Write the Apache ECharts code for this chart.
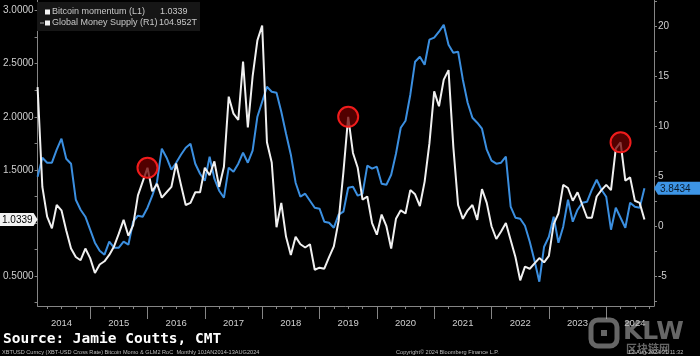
<!DOCTYPE html>
<html><head><meta charset="utf-8">
<script src="https://cdn.jsdelivr.net/npm/echarts@6/dist/echarts.min.js"></script>
<style>html,body{margin:0;padding:0;background:#000;}#c{width:700px;height:356px;}</style>
</head><body><div id="c"></div>
<script>
// ---- data (monthly, Jan 2014 .. Aug 2024) ----
const firstYear = 2014, axisMonths = 130; // axis runs Jan 2014 .. Oct 2024
const bitcoinMomentum = [
 2.28,1.34,1.06,0.95,1.17,1.12,0.93,0.76,0.68,0.65,0.76,0.67,
 0.53,0.61,0.64,0.70,0.78,0.90,1.03,0.88,0.98,1.26,1.39,1.52,
 1.30,1.37,1.24,1.29,1.34,1.56,1.36,1.17,1.19,1.29,1.29,1.52,
 1.45,1.58,1.34,1.53,2.19,2.03,1.97,2.52,1.90,2.38,2.72,2.86,
 1.76,1.57,0.96,1.19,0.87,0.70,0.87,0.80,0.77,0.80,0.56,0.58,
 0.57,0.68,0.78,1.02,1.48,2.00,1.66,1.52,1.22,1.25,1.00,0.89,
 1.08,0.97,0.76,1.04,1.12,1.09,1.31,1.27,1.16,1.39,1.75,2.24,
 2.10,2.35,2.44,1.72,1.17,1.04,1.12,1.17,1.03,1.32,1.19,0.97,
 0.85,0.92,1.00,0.84,0.68,0.46,0.59,0.57,0.62,0.67,0.63,0.69,
 0.99,1.09,1.36,1.33,1.21,1.29,1.17,1.05,1.05,1.25,1.31,1.36,
 1.31,1.70,1.76,1.40,1.43,1.21,1.19,1.0339
];
const globalMoneySupplyRoC = [
 5.0,6.9,6.4,6.4,7.7,8.8,6.8,6.3,2.7,1.7,1.0,-0.3,
 -1.6,-2.4,-2.8,-1.5,-2.1,-2.1,-1.5,-1.8,0.5,1.1,1.0,1.9,
 3.1,4.5,7.8,6.9,5.7,6.4,7.2,7.9,8.3,6.3,5.3,4.6,
 7.0,4.8,3.6,2.9,5.9,5.5,6.3,7.4,6.4,7.6,11.0,12.5,
 14.0,13.5,13.4,11.5,9.3,7.2,4.4,3.0,3.3,2.6,1.9,1.8,
 0.5,0.4,-0.1,1.2,1.5,3.9,4.0,3.1,3.3,6.1,5.8,6.0,
 4.3,4.2,5.2,7.3,9.9,10.6,13.2,16.5,17.0,16.2,18.7,18.9,
 19.5,20.2,18.2,17.4,17.5,14.7,12.4,10.9,10.4,9.8,7.7,6.6,
 6.3,6.4,7.0,2.0,0.9,0.8,0.1,-1.5,-3.4,-5.5,-2.0,-1.0,
 1.0,-1.6,0.0,2.7,0.5,1.7,2.4,2.5,3.7,4.7,3.7,3.0,
 -0.3,1.9,0.9,-0.1,2.4,2.0,1.9,3.8434
];
const peakMonths = ['2015-12', '2019-06', '2024-03'];
const leftLabelValues = [0.5, 1.5, 2.0, 2.5, 3.0];
const leftTickValues = [0.25,0.5,0.75,1.0,1.25,1.5,1.75,2.0,2.25,2.5,2.75,3.0];
const rightLabelValues = [-5, 0, 5, 10, 15, 20];
const rightTickValues = [-7.5,-5,-2.5,0,2.5,5,7.5,10,12.5,15,17.5,20,22.5];
const seriesNames = ['Bitcoin momentum (L1)', 'Global Money Supply (R1)'];
const legendValues = ['1.0339', '104.952T'];
const sourceText = 'Source: Jamie Coutts, CMT';
const footerLeft = 'XBTUSD Curncy (XBT-USD Cross Rate) Bitcoin Momo & GLM2 RoC  Monthly 10JAN2014-13AUG2024';
const footerMid = 'Copyright\u00a9 2024 Bloomberg Finance L.P.';
const footerRight = '13-Aug-2024 21:11:32';

const months = [];
for (let i = 0; i < axisMonths; i++) {
  const y = firstYear + Math.floor(i / 12), m = i % 12 + 1;
  months.push(y + '-' + (m < 10 ? '0' + m : m));
}
const monthOf = i => parseInt(months[i].slice(5), 10);
const lastIdx = bitcoinMomentum.length - 1;

const WHITE = '#f0f0f0', BLUE = '#3b8fe0', AXIS = '#858585', LABEL = '#cfcfcf';
const FONT = 'Liberation Sans';

const chart = echarts.init(document.getElementById('c'), null, {renderer: 'canvas'});
const option = {
  backgroundColor: '#000',
  animation: false,
  grid: {left: 35, right: 46, top: 0, bottom: 50, containLabel: false},
  xAxis: [{
    type: 'category', data: months, boundaryGap: false, position: 'bottom',
    axisLine: {onZero: false, lineStyle: {color: AXIS, width: 1}},
    axisTick: {interval: i => [3, 6, 9, 12].includes(monthOf(i)), length: 3, lineStyle: {color: AXIS}},
    axisLabel: {show: false}, splitLine: {show: false}
  }, {
    type: 'category', data: months, boundaryGap: false, position: 'bottom',
    axisLine: {show: false, onZero: false},
    axisTick: {interval: i => monthOf(i) === 12, length: 13, lineStyle: {color: AXIS}},
    axisLabel: {
      interval: i => monthOf(i) === 6,
      formatter: v => v.slice(0, 4), color: LABEL, fontSize: 9.5, fontFamily: FONT, margin: 12
    },
    splitLine: {show: false}
  }],
  yAxis: [{
    type: 'value', position: 'left', min: 0.219, max: 3.1,
    axisLine: {show: true, lineStyle: {color: AXIS}},
    axisTick: {show: true, customValues: leftTickValues, length: 3, lineStyle: {color: AXIS}},
    axisLabel: {customValues: leftLabelValues, formatter: v => v.toFixed(4), color: LABEL, fontSize: 10, fontFamily: FONT, margin: 4},
    splitLine: {show: false}
  }, {
    type: 'value', position: 'right', min: -7.93, max: 22.67,
    axisLine: {show: true, lineStyle: {color: AXIS}},
    axisTick: {show: true, customValues: rightTickValues, length: 3, lineStyle: {color: AXIS}},
    axisLabel: {customValues: rightLabelValues, color: LABEL, fontSize: 10, fontFamily: FONT, margin: 4},
    splitLine: {show: false}
  }],
  series: [{
    name: seriesNames[1], type: 'line', xAxisIndex: 0, yAxisIndex: 1,
    data: globalMoneySupplyRoC, showSymbol: false, symbol: 'none',
    lineStyle: {color: BLUE, width: 2}, itemStyle: {color: BLUE}, z: 2
  }, {
    name: seriesNames[0], type: 'line', xAxisIndex: 0, yAxisIndex: 0,
    data: bitcoinMomentum, showSymbol: false, symbol: 'none',
    lineStyle: {color: WHITE, width: 2}, itemStyle: {color: WHITE}, z: 3
  }, {
    name: 'peaks', type: 'scatter', xAxisIndex: 0, yAxisIndex: 0,
    data: peakMonths.map(m => [m, bitcoinMomentum[months.indexOf(m)]]),
    symbol: 'circle', symbolSize: 20,
    itemStyle: {color: 'rgba(110,0,0,0.75)', borderColor: '#f01c1c', borderWidth: 2, opacity: 1},
    z: 4, silent: true
  }]
};
chart.setOption(option);

// ---- overlays positioned through the chart's own scales ----
const xL = chart.convertToPixel({xAxisIndex: 0}, months[0]);
const xR = chart.convertToPixel({xAxisIndex: 0}, months[axisMonths - 1]);
const yL = chart.convertToPixel({yAxisIndex: 0}, bitcoinMomentum[lastIdx]);
const yR = chart.convertToPixel({yAxisIndex: 1}, globalMoneySupplyRoC[lastIdx]);
const h = 6.5;
const wm = 'rgba(185,185,185,0.55)';
const LF = '9px ' + FONT;
chart.setOption({
  graphic: [
    // legend box
    {type: 'rect', shape: {x: 37, y: 2, width: 163, height: 29}, style: {fill: '#161616'}, z: 10},
    {type: 'rect', shape: {x: 45, y: 9.5, width: 5, height: 5}, style: {fill: '#f4f4f4'}, z: 11},
    {type: 'text', x: 52, y: 12, style: {text: seriesNames[0], fill: '#c8c8c8', font: LF, verticalAlign: 'middle'}, z: 11},
    {type: 'text', x: 160, y: 12, style: {text: legendValues[0], fill: '#c8c8c8', font: LF, verticalAlign: 'middle'}, z: 11},
    {type: 'line', shape: {x1: 40, y1: 23, x2: 44, y2: 23}, style: {stroke: '#aaaaaa', lineWidth: 1}, z: 11},
    {type: 'rect', shape: {x: 45, y: 20.5, width: 5, height: 5}, style: {fill: '#f4f4f4'}, z: 11},
    {type: 'text', x: 52, y: 23, style: {text: seriesNames[1], fill: '#c8c8c8', font: LF, verticalAlign: 'middle'}, z: 11},
    {type: 'text', x: 159, y: 23, style: {text: legendValues[1], fill: '#c8c8c8', font: LF, verticalAlign: 'middle'}, z: 11},
    // last-value badges
    {type: 'polygon', shape: {points: [[0, yL - h], [xL - 4, yL - h], [xL, yL], [xL - 4, yL + h], [0, yL + h]]}, style: {fill: '#f2f2f2'}, z: 12},
    {type: 'text', x: 2, y: yL + 0.5, style: {text: bitcoinMomentum[lastIdx].toFixed(4), fill: '#000', font: '10px ' + FONT, verticalAlign: 'middle'}, z: 13},
    {type: 'polygon', shape: {points: [[xR, yR], [xR + 4, yR - h], [700, yR - h], [700, yR + h], [xR + 4, yR + h]]}, style: {fill: '#3d95e6'}, z: 12},
    {type: 'text', x: xR + 6, y: yR + 0.5, style: {text: globalMoneySupplyRoC[lastIdx].toFixed(4), fill: '#0b1a2a', font: '10px ' + FONT, verticalAlign: 'middle'}, z: 13},
    // source + footer
    {type: 'text', x: 3, y: 339, style: {text: sourceText, fill: '#ffffff', font: 'bold 14.5px "DejaVu Sans Mono"', verticalAlign: 'middle'}, z: 10},
    {type: 'text', x: 2, y: 352, style: {text: footerLeft, fill: '#bdbdbd', font: '5.6px ' + FONT, verticalAlign: 'middle'}, z: 10},
    {type: 'text', x: 396, y: 352, style: {text: footerMid, fill: '#bdbdbd', font: '5.6px ' + FONT, verticalAlign: 'middle'}, z: 10},
    {type: 'text', x: 628, y: 352, style: {text: footerRight, fill: '#bdbdbd', font: '5.6px ' + FONT, verticalAlign: 'middle'}, z: 10},
    // watermark
    {type: 'rect', shape: {x: 591, y: 320, width: 26, height: 26, r: 7}, style: {fill: 'none', stroke: wm, lineWidth: 5}, z: 20},
    {type: 'rect', shape: {x: 601, y: 330, width: 6, height: 6}, style: {fill: wm}, z: 20},
    {type: 'text', x: 623, y: 332, style: {text: 'KLW', fill: wm, font: 'bold 25px "DejaVu Sans"', verticalAlign: 'middle'}, z: 20},
    {type: 'text', x: 626, y: 349, style: {text: '区块链网', fill: wm, font: 'bold 11px "Noto Sans CJK SC"', verticalAlign: 'middle'}, z: 20}
  ]
});
</script>
</body></html>
